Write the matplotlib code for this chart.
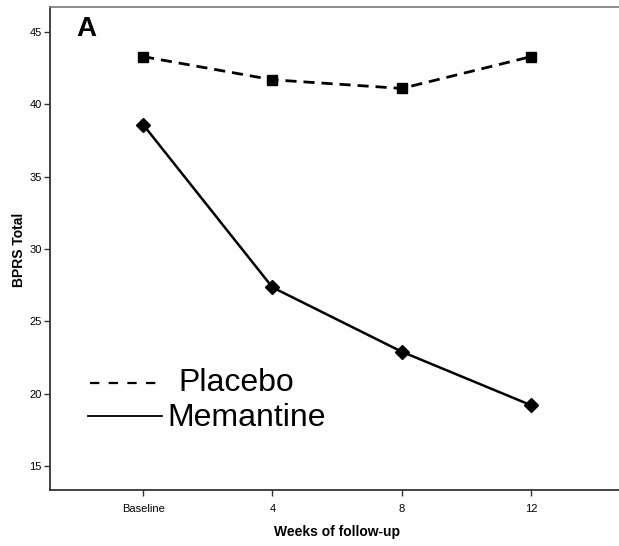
import numpy as np
import matplotlib.pyplot as plt
from matplotlib.lines import Line2D

plt.rcParams['font.family'] = ['Liberation Sans', 'DejaVu Sans']

# data
weeks = ['Baseline', '4', '8', '12']
placebo = [43.3, 41.7, 41.1, 43.3]
memantine = [38.6, 27.35, 22.9, 19.2]
yticks = [15, 20, 25, 30, 35, 40, 45]

fig = plt.figure(figsize=(6.19, 5.46), dpi=100)
ax = fig.add_axes([50 / 619, 1 - 490 / 546, 1 - 50 / 619, 483 / 546])

x = np.arange(len(weeks))
ax.plot(x, placebo, color='black', lw=2, dashes=(4, 2.5), marker='s', ms=7)
ax.plot(x, memantine, color='black', lw=1.8, marker='D', ms=7.5)

ax.set_xlim(-0.72, 3.68)
ax.set_ylim(13.34, 46.73)
ax.set_xticks(x)
ax.set_xticklabels(weeks)
ax.set_yticks(yticks)
ax.tick_params(axis='both', labelsize=8, length=4, width=1, color='#333333', pad=2)
ax.tick_params(axis='x', pad=6)

for s in ['left', 'bottom']:
    ax.spines[s].set_color('#333333')
    ax.spines[s].set_linewidth(1.3)
ax.spines['top'].set_color('#777777')
ax.spines['top'].set_linewidth(1.2)
ax.spines['right'].set_visible(False)

ax.set_ylabel('BPRS Total', fontsize=10, fontweight='bold')
ax.yaxis.set_label_coords(-0.042, 0.497)
ax.set_xlabel('Weeks of follow-up', fontsize=10, fontweight='bold')
ax.xaxis.set_label_coords(0.504, -0.073)

ax.text(0.047, 0.955, 'A', transform=ax.transAxes, fontsize=20, fontweight='bold',
        va='center', ha='left')

# hand-made legend
ax.add_line(Line2D([0.070, 0.193], [0.2215, 0.2215], transform=ax.transAxes,
                   color='black', lw=1.6, dashes=(4.2, 4.2)))
ax.text(0.225, 0.2215, 'Placebo', transform=ax.transAxes, fontsize=23,
        va='center', ha='left')
ax.add_line(Line2D([0.066, 0.197], [0.153, 0.153], transform=ax.transAxes,
                   color='black', lw=1.3))
ax.text(0.2056, 0.150, 'Memantine', transform=ax.transAxes, fontsize=23,
        va='center', ha='left')

fig.savefig('out.png', dpi=100)
